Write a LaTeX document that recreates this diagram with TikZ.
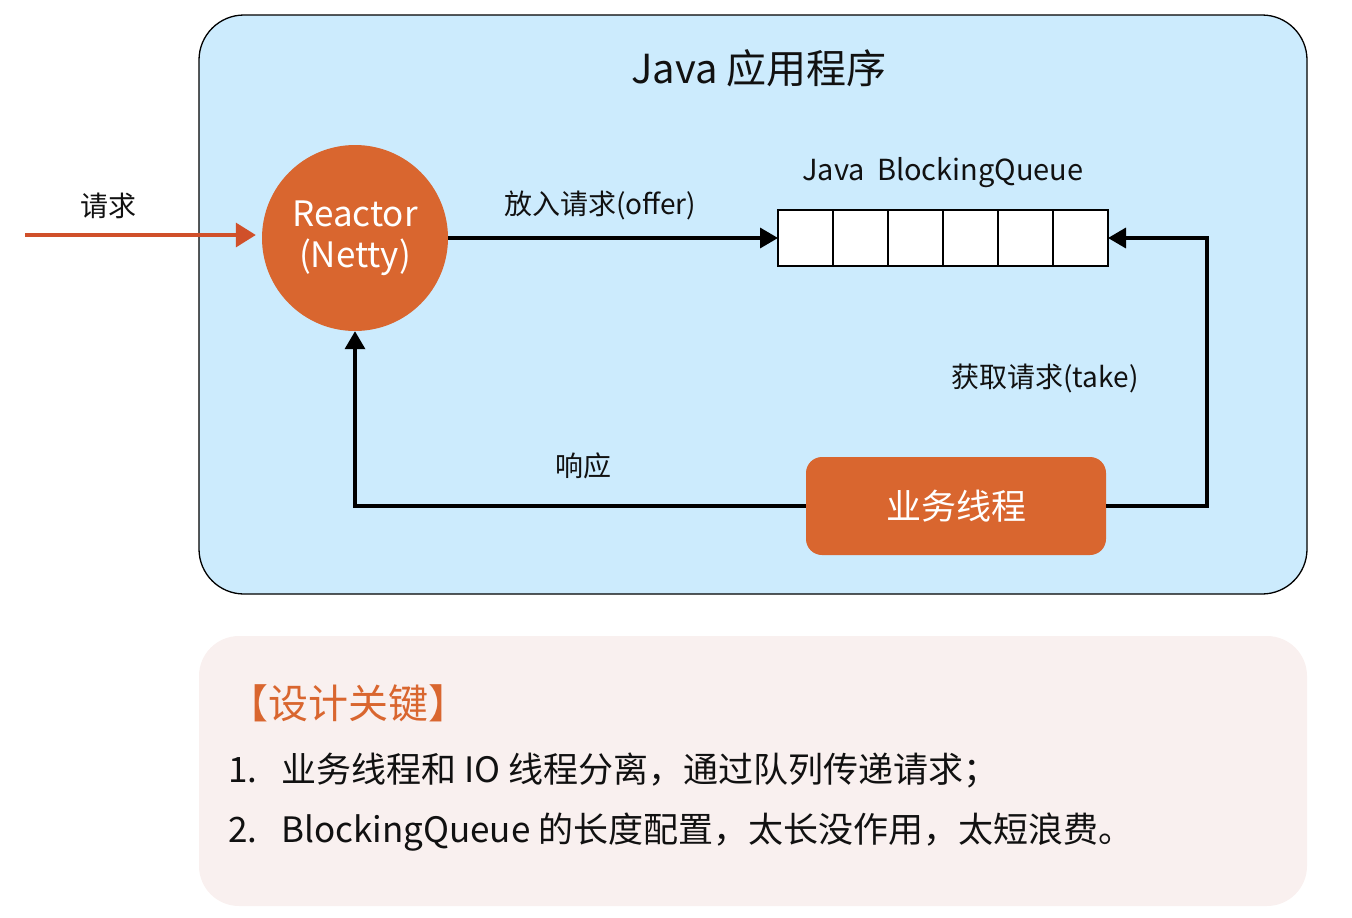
\documentclass[tikz,border=0pt]{standalone}
\usepackage{fontspec}
\setmainfont{Noto Sans CJK SC}
\usetikzlibrary{arrows.meta,positioning}
\definecolor{appblue}{HTML}{CCEBFD}
\definecolor{orng}{HTML}{D9662F}
\definecolor{reqred}{HTML}{D0502A}
\definecolor{notebg}{HTML}{F9F0EF}
\definecolor{txt}{HTML}{111111}
\tikzset{
  fs/.style={font=\fontsize{#1}{#1}\selectfont},
  lbl/.style={text=txt, inner sep=0pt},
  conn/.style={line width=3.5pt, -{Triangle[length=18pt,width=20pt]}},
  cell/.style={draw=black, line width=2.5pt, fill=white, minimum width=55pt, minimum height=56pt, inner sep=0pt, outer sep=0pt, anchor=west},
}
\begin{document}
\begin{tikzpicture}[x=1pt,y=-1pt]
\useasboundingbox (0,0) rectangle (1352,918);
% outer app box
\draw[fill=appblue, line width=1.3pt, rounded corners=45pt] (199,15) rectangle (1307,594);
\node[lbl, fs=40] (title) at (759,68) {Java 应用程序};
% note box
\fill[notebg, rounded corners=40pt] (199,636) rectangle (1307,906);
\node[lbl, fs=40, text=orng, anchor=west] (key) at (228,703) {【设计关键】};
\node[lbl, fs=35, anchor=west] (l1) at (228,770) {1.\hspace{24pt}业务线程和 IO 线程分离，通过队列传递请求；};
\node[lbl, fs=35, anchor=west] (l2) at (228,832) {2.\hspace{24pt}BlockingQueue 的长度配置，太长没作用，太短浪费。};
% reactor
\node[circle, fill=orng, minimum size=186pt, inner sep=0pt, align=center, text=white, fs=35] (reactor) at (355,238) {Reactor\\[6pt](Netty)};
% request arrow
\coordinate (src) at (25,235);
\draw[reqred, line width=3.5pt, -{Triangle[length=20pt,width=24pt]}, shorten >=6pt] (src) -- (reactor.west |- src);
\node[lbl, fs=28] (req) at (108,206) {请求};
% queue
\node[cell] (c1) at (778,238) {};
\node[cell, right=0pt of c1] (c2) {};
\node[cell, right=0pt of c2] (c3) {};
\node[cell, right=0pt of c3] (c4) {};
\node[cell, right=0pt of c4] (c5) {};
\node[cell, right=0pt of c5] (c6) {};
\node[lbl, fs=29] (qlbl) at (943,173) {Java\hspace{12pt}BlockingQueue};
% worker
\node[fill=orng, rounded corners=16pt, minimum width=300pt, minimum height=98pt, text=white, fs=35] (worker) at (956,506) {业务线程};
% offer
\draw[conn] (reactor.east) -- (c1.west);
\node[lbl, fs=28] (offer) at (600,205) {放入请求(offer)};
% take
\coordinate (tk) at (1207,506);
\draw[conn] (worker.east) -- (tk) -- (tk |- c6.east) -- (c6.east);
\node[lbl, fs=28] (take) at (1045,378) {获取请求(take)};
% response
\coordinate (rs) at (355,506);
\draw[conn] (worker.west) -- (rs) -- (reactor.south);
\node[lbl, fs=28] (resp) at (583,466) {响应};
\end{tikzpicture}
\end{document}
